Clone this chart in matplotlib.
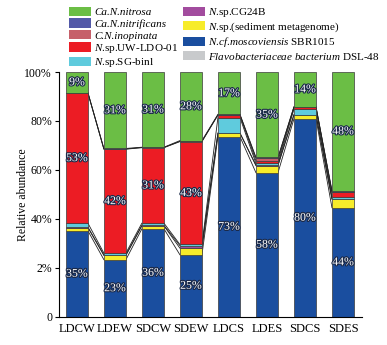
import numpy as np
import matplotlib
matplotlib.use("Agg")
import matplotlib.pyplot as plt
import matplotlib.patheffects as pe
from matplotlib.patches import Patch

plt.rcParams['font.family'] = ['Liberation Serif', 'DejaVu Serif']
plt.rcParams['mathtext.fontset'] = 'custom'
plt.rcParams['mathtext.rm'] = 'Liberation Serif'
plt.rcParams['mathtext.it'] = 'Liberation Serif:italic'

samples = ["LDCW", "LDEW", "SDCW", "SDEW", "LDCS", "LDES", "SDCS", "SDES"]

# relative abundance (%), stacked from bottom to top
flavo = [0.1, 0.1, 0.1, 0.1, 0.1, 0.1, 0.1, 0.1]
moscoviensis = [35.1, 23.3, 35.9, 25.3, 73.5, 58.8, 80.8, 44.5]
sediment = [1.3, 1.7, 1.2, 2.7, 1.4, 2.9, 1.6, 3.4]
cg24b = [0.2, 0.3, 0.2, 1.0, 0.1, 0.2, 0.1, 0.3]
sg_binl = [1.6, 0.7, 0.9, 0.5, 6.3, 0.7, 2.2, 0.8]
uw_ldo = [53.1, 42.4, 30.8, 42.0, 1.0, 1.1, 0.8, 1.8]
inopinata = [0.1, 0.1, 0.1, 0.1, 0.1, 1.1, 0.1, 0.2]
nitrificans = [0.1, 0.2, 0.1, 0.3, 0.2, 0.3, 0.1, 0.5]
nitrosa = [8.4, 31.2, 30.7, 28.0, 17.3, 34.8, 14.2, 48.4]

blue_labels = ["35%", "23%", "36%", "25%", "73%", "58%", "80%", "44%"]
red_labels = ["53%", "42%", "31%", "43%", "", "", "", ""]
green_labels = ["9%", "31%", "31%", "28%", "17%", "35%", "14%", "48%"]

# (values, colour, legend label, whole label italic?)
layers = [
    (flavo, "#C8CACC", r"$\mathit{Flavobacteriaceae}$ $\mathit{bacterium}$ DSL-48", False),
    (moscoviensis, "#1A4E9F", r"$\mathit{N}$.$\mathit{cf}$.$\mathit{moscoviensis}$ SBR1015", False),
    (sediment, "#F7EC2A", r"$\mathit{N}$.sp.(sediment metagenome)", False),
    (cg24b, "#A24C9E", r"$\mathit{N}$.sp.CG24B", False),
    (sg_binl, "#5FCBDD", r"$\mathit{N}$.sp.SG-binl", False),
    (uw_ldo, "#EC1C24", r"$\mathit{N}$.sp.UW-LDO-01", False),
    (inopinata, "#C6606A", "C.N.inopinata", True),
    (nitrificans, "#5359A8", "Ca.N.nitrificans", True),
    (nitrosa, "#6BBE45", "Ca.N.nitrosa", True),
]

fig = plt.figure(figsize=(3.87, 3.45), dpi=100)
ax = fig.add_axes([0.1525, 0.0812, 0.7829, 0.7101])

x = np.arange(len(samples))
w = 0.58
bottom = np.zeros(len(samples))
tops = []
for vals, col, lab, _ in layers:
    vals = np.array(vals)
    ax.bar(x, vals, w, bottom=bottom, color=col, edgecolor="#3a3a3a", linewidth=0.5, zorder=2)
    bottom = bottom + vals
    tops.append(bottom.copy())

# connecting lines between neighbouring bars
for t in tops[:-1]:
    for i in range(len(samples) - 1):
        ax.plot([x[i] + w / 2, x[i + 1] - w / 2], [t[i], t[i + 1]],
                color="#222222", lw=0.6, zorder=1)

stroke = [pe.withStroke(linewidth=1.6, foreground="#1b2a4a")]
def seg_labels(idx, labels):
    lo = tops[idx - 1]
    hi = tops[idx]
    for i, s in enumerate(labels):
        if s:
            ax.text(x[i], (lo[i] + hi[i]) / 2, s, ha="center", va="center",
                    fontsize=8.5, color="white", path_effects=stroke, zorder=3)

seg_labels(1, blue_labels)
seg_labels(5, red_labels)
seg_labels(8, green_labels)

ax.set_xlim(-0.47, 7.5)
ax.set_ylim(0, 100)
ax.set_xticks(x)
ax.set_xticklabels(samples, fontsize=9)
ax.tick_params(axis="x", length=0, pad=4)
ax.set_yticks([0, 20, 40, 60, 80, 100])
ax.set_yticklabels(["0", "2%", "40%", "60%", "80%", "100%"], fontsize=8.5)
ax.tick_params(axis="y", length=3, width=0.8, pad=2)
ax.spines["top"].set_visible(False)
ax.spines["right"].set_visible(False)
ax.set_ylabel("Relative abundance", fontsize=8.5, labelpad=-3)

order = [8, 7, 6, 5, 4, 3, 2, 1, 0]
handles = [Patch(facecolor=layers[k][1], edgecolor="none") for k in order]
labels = [layers[k][2] for k in order]
leg = fig.legend(handles, labels, loc="upper left", bbox_to_anchor=(0.158, 1.005), ncol=2,
                 frameon=False, fontsize=8, handlelength=2.0, handleheight=0.9,
                 handletextpad=0.3, labelspacing=0.12, columnspacing=0.35, borderpad=0.2)
for k, txt in zip(order, leg.get_texts()):
    if layers[k][3]:
        txt.set_fontstyle("italic")

fig.savefig("out.png", dpi=100)
